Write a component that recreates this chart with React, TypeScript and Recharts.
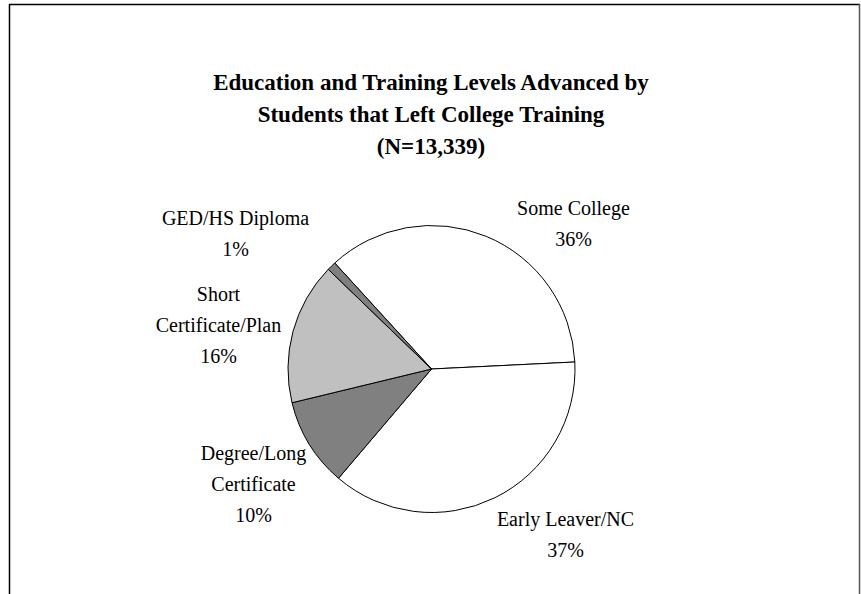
import React from 'react';
import { PieChart, Pie, Cell } from 'recharts';

const CATEGORIES = [
  'Some College',
  'Early Leaver/NC',
  'Degree/Long Certificate',
  'Short Certificate/Plan',
  'GED/HS Diploma',
];
const SHARES = [36, 37, 10, 16, 1];
const LABEL_LINES = [
  ['Some College'],
  ['Early Leaver/NC'],
  ['Degree/Long', 'Certificate'],
  ['Short', 'Certificate/Plan'],
  ['GED/HS Diploma'],
];
const TITLE_LINES = [
  'Education and Training Levels Advanced by',
  'Students that Left College Training',
  '(N=13,339)',
];

const FILLS = ['#ffffff', '#ffffff', '#808080', '#c0c0c0', '#808080'];
// label anchor (center x, first baseline) relative to pie centre
const LABEL_POS = [
  [142, -154],
  [134, 157],
  [-178, 91],
  [-213, -68],
  [-196, -144],
];

const W = 861;
const H = 594;
const CX = 431.5;
const CY = 369;
const FONT = '"Liberation Serif", "Times New Roman", serif';

const data = CATEGORIES.map((name, i) => ({ name, value: SHARES[i] }));

const renderLabel = (props: any) => {
  const { index, value } = props;
  const cx = props.cx ?? CX;
  const cy = props.cy ?? CY;
  const [dx, dy] = LABEL_POS[index];
  const lines = [...LABEL_LINES[index], `${value}%`];
  return (
    <text
      x={cx + dx}
      y={cy + dy}
      textAnchor="middle"
      fontFamily={FONT}
      fontSize={20}
      fill="#000"
    >
      {lines.map((l, i) => (
        <tspan key={i} x={cx + dx} dy={i === 0 ? 0 : 31}>
          {l}
        </tspan>
      ))}
    </text>
  );
};

const App: React.FC = () => {
  const start = 132.4;
  return (
    <div style={{ position: 'absolute', left: 0, top: 0, width: W, height: H, background: '#fff' }}>
      <svg width={W} height={H} style={{ position: 'absolute', left: 0, top: 0 }}>
        <line x1={9} y1={4.5} x2={860} y2={4.5} stroke="#000" strokeWidth={1.5} />
        <line x1={9.5} y1={4} x2={9.5} y2={H} stroke="#000" strokeWidth={1.5} />
        <line x1={859.5} y1={4} x2={859.5} y2={H} stroke="#555" strokeWidth={1.5} />
        {TITLE_LINES.map((t, i) => (
          <text
            key={i}
            x={431}
            y={90 + i * 32}
            textAnchor="middle"
            fontFamily={FONT}
            fontWeight="bold"
            fontSize={23}
            fill="#000"
          >
            {t}
          </text>
        ))}
      </svg>
      <div style={{ position: 'absolute', left: 0, top: 0 }}>
        <PieChart width={W} height={H} margin={{ top: 0, right: 0, bottom: 0, left: 0 }}>
          <Pie
            data={data}
            dataKey="value"
            nameKey="name"
            cx={CX}
            cy={CY}
            outerRadius={143.5}
            startAngle={start}
            endAngle={start - 360}
            stroke="#000"
            strokeWidth={1}
            label={renderLabel}
            labelLine={false}
            isAnimationActive={false}
          >
            {data.map((d, i) => (
              <Cell key={d.name} fill={FILLS[i]} />
            ))}
          </Pie>
        </PieChart>
      </div>
    </div>
  );
};

export default App;
